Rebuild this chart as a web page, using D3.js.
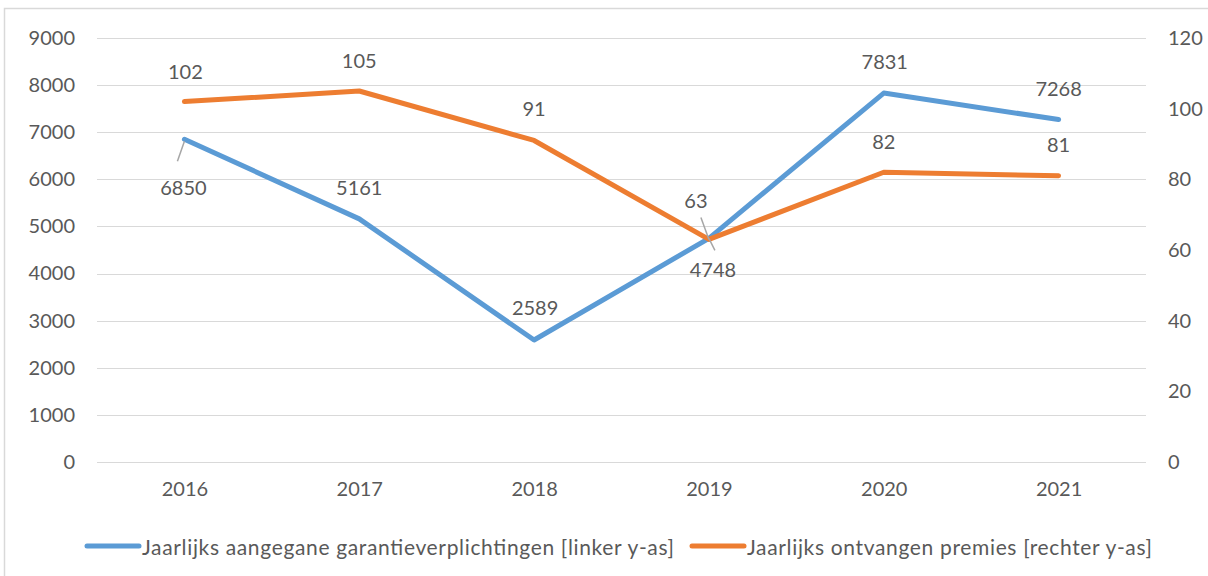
<!DOCTYPE html>
<html>
<head>
<meta charset="utf-8">
<script src="https://cdn.jsdelivr.net/npm/d3@7"></script>
<style>
  html, body { margin: 0; padding: 0; background: #fff; }
  svg text { font-family: Lato, "Open Sans", sans-serif; fill: #595959; }
</style>
</head>
<body>
<svg id="chart" width="1208" height="576"></svg>
<script>
// ---- data ----
const years = ["2016", "2017", "2018", "2019", "2020", "2021"];
const garanties = [6850, 5161, 2589, 4748, 7831, 7268];
const premies = [102, 105, 91, 63, 82, 81];
const leftTicks = [0, 1000, 2000, 3000, 4000, 5000, 6000, 7000, 8000, 9000];
const rightTicks = [0, 20, 40, 60, 80, 100, 120];
const seriesNames = [
  "Jaarlijks aangegane garantieverplichtingen [linker y-as]",
  "Jaarlijks ontvangen premies [rechter y-as]"
];

// ---- layout ----
const W = 1208, H = 576;
const plot = { left: 97, right: 1146, top: 38, bottom: 462 };
const colors = ["#5B9BD5", "#ED7D31"];
// label offsets (dx, dy of text centre relative to point) and optional leader line
const blueLabelPos = [
  { dx: -1, dy: 48, leader: [[0, 2], [-7, 22]] },
  { dx: 0, dy: -32 },
  { dx: 1, dy: -33 },
  { dx: 4, dy: 31, leader: [[0, 0], [6, 12]] },
  { dx: 1, dy: -32 },
  { dx: 0, dy: -32 }
];
const orangeLabelPos = [
  { dx: 1, dy: -31 },
  { dx: 0, dy: -31 },
  { dx: 0, dy: -32 },
  { dx: -13, dy: -39, leader: [[-8, -22], [0, 0]] },
  { dx: 0, dy: -31 },
  { dx: 0, dy: -32 }
];

const svg = d3.select("#chart");

// outer border
svg.append("rect")
  .attr("x", 4.5).attr("y", 8.5)
  .attr("width", W + 10).attr("height", H + 10)
  .attr("fill", "none").attr("stroke", "#d9d9d9").attr("stroke-width", 1.5);

const x = d3.scalePoint().domain(years).range([plot.left, plot.right]).padding(0.5);
const yL = d3.scaleLinear().domain([0, 9000]).range([plot.bottom, plot.top]);
const yR = d3.scaleLinear().domain([0, 120]).range([plot.bottom, plot.top]);

// gridlines
svg.append("g").selectAll("line").data(leftTicks).join("line")
  .attr("x1", plot.left).attr("x2", plot.right)
  .attr("y1", d => Math.round(yL(d)) + 0.5).attr("y2", d => Math.round(yL(d)) + 0.5)
  .attr("stroke", "#d9d9d9").attr("stroke-width", 1);

// left axis
const axL = svg.append("g").attr("transform", `translate(${plot.left},0)`)
  .call(d3.axisLeft(yL).tickValues(leftTicks).tickSize(0).tickPadding(22).tickFormat(d3.format("d")));
axL.select(".domain").remove();
axL.selectAll("text").attr("font-size", 20).attr("fill", "#595959")
  .style("font-family", "Lato, 'Open Sans', sans-serif");

// right axis
const axR = svg.append("g").attr("transform", `translate(${plot.right},0)`)
  .call(d3.axisRight(yR).tickValues(rightTicks).tickSize(0).tickPadding(22).tickFormat(d3.format("d")));
axR.select(".domain").remove();
axR.selectAll("text").attr("font-size", 20).attr("fill", "#595959")
  .style("font-family", "Lato, 'Open Sans', sans-serif");

// x axis
const axX = svg.append("g").attr("transform", `translate(0,${plot.bottom})`)
  .call(d3.axisBottom(x).tickSize(0).tickPadding(20));
axX.select(".domain").remove();
axX.selectAll("text").attr("font-size", 20).attr("fill", "#595959")
  .style("font-family", "Lato, 'Open Sans', sans-serif");

// lines
const lineL = d3.line().x((d, i) => x(years[i])).y(d => yL(d));
const lineR = d3.line().x((d, i) => x(years[i])).y(d => yR(d));

svg.append("path").datum(garanties).attr("d", lineL)
  .attr("fill", "none").attr("stroke", colors[0]).attr("stroke-width", 5)
  .attr("stroke-linejoin", "round").attr("stroke-linecap", "round");
svg.append("path").datum(premies).attr("d", lineR)
  .attr("fill", "none").attr("stroke", colors[1]).attr("stroke-width", 5)
  .attr("stroke-linejoin", "round").attr("stroke-linecap", "round");

// data labels
function labels(values, scale, pos) {
  const g = svg.append("g");
  values.forEach((v, i) => {
    const px = x(years[i]), py = scale(v);
    const p = pos[i];
    if (p.leader) {
      g.append("line")
        .attr("x1", px + p.leader[0][0]).attr("y1", py + p.leader[0][1])
        .attr("x2", px + p.leader[1][0]).attr("y2", py + p.leader[1][1])
        .attr("stroke", "#a6a6a6").attr("stroke-width", 1.5);
    }
    g.append("text")
      .attr("x", px + p.dx).attr("y", py + p.dy)
      .attr("text-anchor", "middle").attr("dominant-baseline", "central")
      .attr("font-size", 20).text(v);
  });
}
labels(garanties, yL, blueLabelPos);
labels(premies, yR, orangeLabelPos);

// legend
const legend = svg.append("g").attr("transform", "translate(0,546)");
const legItems = [{ x0: 87, x1: 139, tx: 142, len: 532 }, { x0: 692, x1: 744, tx: 747, len: 405 }];
seriesNames.forEach((name, i) => {
  const it = legItems[i];
  legend.append("line").attr("x1", it.x0).attr("x2", it.x1).attr("y1", 0).attr("y2", 0)
    .attr("stroke", colors[i]).attr("stroke-width", 5).attr("stroke-linecap", "round");
  legend.append("text").attr("x", it.tx).attr("y", 0)
    .attr("dominant-baseline", "central").attr("font-size", 21)
    .attr("textLength", it.len).attr("lengthAdjust", "spacing").text(name);
});
</script>
</body>
</html>
